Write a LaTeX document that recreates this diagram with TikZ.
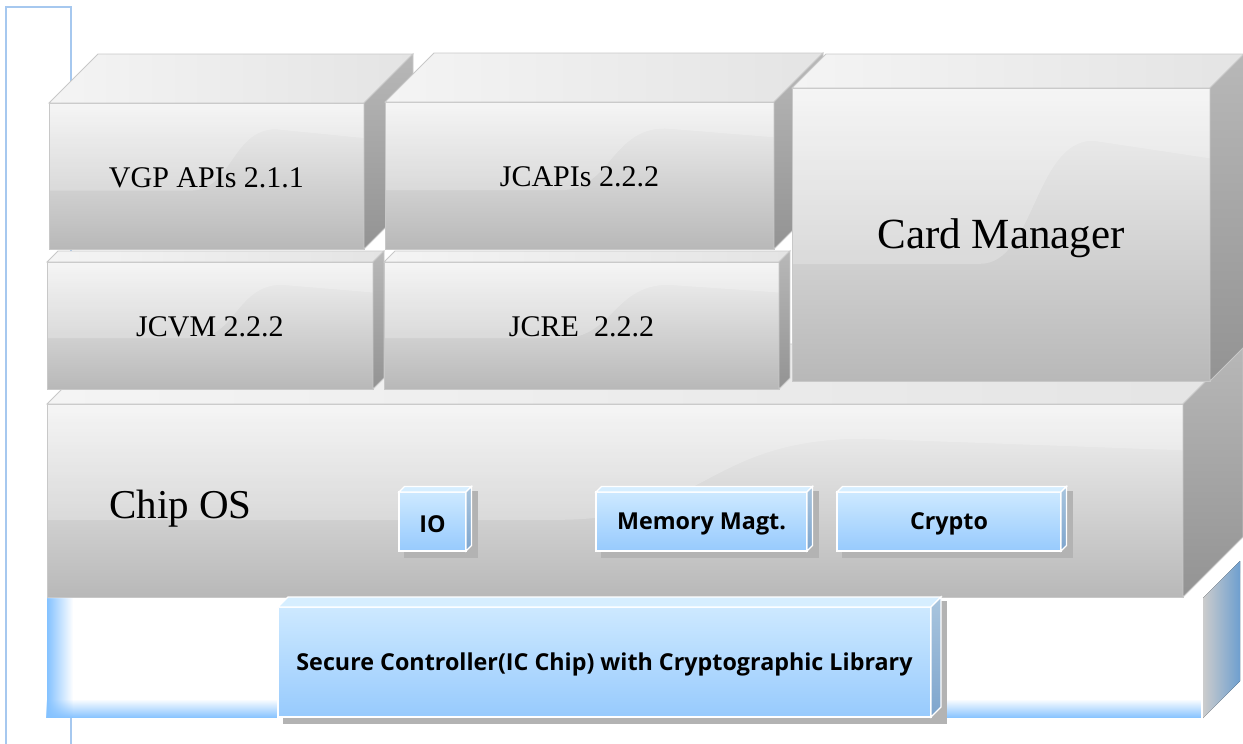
\documentclass[tikz,border=0pt]{standalone}
\usepackage{fontspec}
\setmainfont{Liberation Serif}
\newfontfamily\labfont{Open Sans}
\usetikzlibrary{calc,fadings}
\definecolor{edgegray}{HTML}{C8C8C8}
\definecolor{frontTop}{HTML}{F3F3F3}
\definecolor{frontBot}{HTML}{B8B8B8}
\definecolor{topL}{HTML}{F4F4F4}
\definecolor{topR}{HTML}{E4E4E4}
\definecolor{sideTop}{HTML}{B8B8B8}
\definecolor{sideBot}{HTML}{939393}
\definecolor{outlineblue}{HTML}{A6C8EF}
\definecolor{glowblue}{HTML}{84C2FF}
\definecolor{barside}{HTML}{6E9FCF}
\definecolor{bTop}{HTML}{CDE9FF}
\definecolor{bBot}{HTML}{97CAFD}
\definecolor{bLid}{HTML}{D6EEFF}
\definecolor{bSideTop}{HTML}{A9C5DE}
\definecolor{bSideBot}{HTML}{7EA5CD}
\definecolor{shadowgray}{HTML}{B3B3B3}
\tikzset{
  gfront/.style={draw=edgegray, line width=0.9pt, top color=frontTop, bottom color=frontBot, inner sep=0pt, outer sep=0pt},
  gtop/.style={draw=edgegray, line width=0.9pt, left color=topL, right color=topR},
  gside/.style={draw=edgegray, line width=0.9pt, top color=sideTop, bottom color=sideBot},
  gtext/.style={inner sep=0pt, text=black},
  bfront/.style={draw=white, line width=1.1pt, top color=bTop, bottom color=bBot, inner sep=0pt, outer sep=0pt},
  btext/.style={inner sep=0pt, text=black, font=\labfont\bfseries\fontsize{23.3}{27}\selectfont},
  btop/.style={draw=white, line width=1.1pt, fill=bLid},
  bside/.style={draw=white, line width=1.1pt, top color=bSideTop, bottom color=bSideBot},
  bshadow/.style={fill=shadowgray},
}
% gray 3D box: name, L, T, R, B, depth, text, font size, text y shift
\newcommand\gbox[9]{%
  \pgfmathsetmacro\gw{#4-#2}\pgfmathsetmacro\gh{#5-#3}%
  \node[gfront, minimum width=\gw pt, minimum height=\gh pt] (#1) at ({(#2+#4)/2},{(#3+#5)/2}) {};
  \begin{scope}
    \clip (#1.south west) rectangle (#1.north east);
    \fill[white, opacity=0.22] (#2,#3) -- (#2,{#3+0.6*\gh}) -- ({#2+0.45*\gw},{#3+0.6*\gh})
      .. controls ({#2+0.58*\gw},{#3+0.6*\gh}) and ({#2+0.58*\gw},{#3+0.18*\gh}) .. ({#2+0.72*\gw},{#3+0.18*\gh})
      -- (#4,{#3+0.24*\gh}) -- (#4,#3) -- cycle;
  \end{scope}
  \draw[draw=edgegray, line width=0.9pt] (#1.south west) rectangle (#1.north east);
  \draw[gtop] (#1.north west) -- (#1.north east) -- ++(#6,-#6) -- ++(-\gw,0) -- cycle;
  \draw[gside] (#1.north east) -- (#1.south east) -- ++(#6,-#6) -- ++(0,-\gh) -- cycle;
  \node[gtext, font=\fontsize{#8}{#8}\selectfont] (#1t) at ($(#1)+(0,#9)$) {#7};
}
% blue 3D box: name, L, T, R, B, depth, text
\newcommand\bbox[7]{%
  \pgfmathsetmacro\bw{#4-#2}\pgfmathsetmacro\bh{#5-#3}%
  \fill[bshadow] ({#2+5},{#3-#6+4}) rectangle ({#4+#6+6},{#5+6.5});
  \node[bfront, minimum width=\bw pt, minimum height=\bh pt] (#1) at ({(#2+#4)/2},{(#3+#5)/2}) {};
  \draw[btop] (#1.north west) -- (#1.north east) -- ++(#6,-#6) -- ++(-\bw,0) -- cycle;
  \draw[bside] (#1.north east) -- (#1.south east) -- ++(#6,-#6) -- ++(0,-\bh) -- cycle;
  \node[btext] (#1t) at ($(#1)+(0,2.5)$) {#7};
}
\begin{document}
\begin{tikzpicture}[x=1pt,y=-1pt]
\useasboundingbox (0,0) rectangle (1243,744);
% left outline
\coordinate (olb) at (6,744);
\coordinate (olt) at (6,7);
\coordinate (ort) at (71,7);
\coordinate (orb) at (71,744);
\draw[outlineblue, line width=1.5pt] (olb) -- (olt) -- (ort) -- (orb);
% bottom bar
\node[fill=white, inner sep=0pt, outer sep=0pt, minimum width=1156pt, minimum height=120pt] (bar) at (625,658) {};
\fill[glowblue, path fading=north] (bar.south west) rectangle ($(bar.south east)+(0,-19)$);
\fill[glowblue, path fading=east] (bar.south west) rectangle ($(bar.north west)+(26,0)$);
\fill[white] (bar.north west) -- (bar.north east) -- ++(37,-37) -- ++(-1156,0) -- cycle;
\fill[glowblue!60, path fading=south] (bar.north east) -- ++(37,-37) -- ++(0,12) -- ++(-37,37) -- cycle;
\fill[left color=black!20, right color=barside] (bar.north east) -- (bar.south east) -- ++(37,-37) -- ++(0,-120) -- cycle;
% chip OS
\gbox{chipos}{47}{404}{1183}{597}{60}{}{40}{0}
\node[gtext, anchor=west, font=\fontsize{41}{41}\selectfont] (chipost) at (109,509) {Chip OS};
\bbox{io}{399}{492}{466}{551}{5.5}{IO}
\bbox{mem}{596}{492}{807}{551}{5.5}{Memory Magt.}
\bbox{crypto}{837}{492}{1061}{551}{5.5}{Crypto}
\bbox{secure}{278}{607}{931}{717}{10}{Secure Controller(IC Chip) with Cryptographic Library}
% middle row
\gbox{jcvm}{47}{262}{373}{389}{11}{JCVM 2.2.2}{30}{1}
\gbox{jcre}{384}{262}{779}{389}{11}{JCRE\ \ 2.2.2}{30}{1}
% top row
\gbox{vgp}{49}{103}{364}{249}{49}{VGP APIs 2.1.1}{30}{1.5}
\gbox{jcapi}{385}{102}{774}{249}{49}{JCAPIs 2.2.2}{30}{1.5}
\gbox{cm}{792}{88}{1210}{381}{34}{Card Manager}{43}{4}
\end{tikzpicture}
\end{document}
